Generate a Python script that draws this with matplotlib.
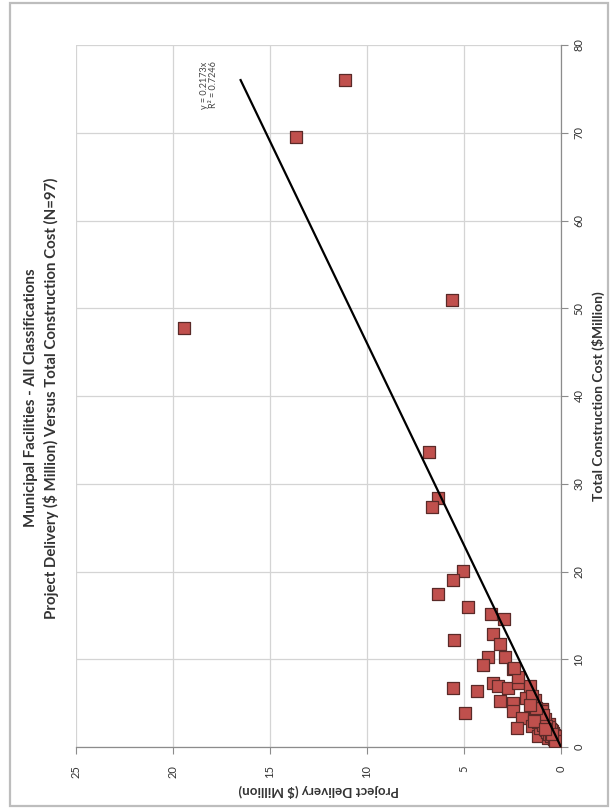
import matplotlib
matplotlib.use("Agg")
import matplotlib.pyplot as plt
from matplotlib.patches import Rectangle

plt.rcParams['font.family'] = ['Lato', 'DejaVu Sans']

# Total construction cost ($ Million) and project delivery cost ($ Million)
cost = [76.0, 69.5, 47.7, 50.9, 33.6, 28.4, 27.3, 20.1, 19.0, 17.4,
        15.9, 15.1, 14.6, 12.2, 12.9, 11.7, 10.2, 10.3, 9.4, 8.85,
        6.75, 6.4, 7.3, 6.9, 6.75, 7.3, 6.9, 5.2, 5.0, 5.6,
        5.4, 4.3, 3.9, 4.1, 3.5, 3.3, 2.2, 2.4, 2.2, 1.6,
        1.2, 0.84, 0.1,
        3.9, 4.1, 2.2, 1.9, 1.6, 1.0, 0.7, 0.3, 3.0, 2.8,
        2.6, 2.5, 2.0, 1.8, 1.7, 1.5, 1.4, 1.3, 1.1, 0.9,
        0.8, 0.6, 0.5, 0.45, 0.4, 0.35, 0.25, 0.2, 0.15, 0.12,
        0.1, 0.08, 0.05, 0.04, 0.03, 0.02, 0.55, 0.7, 1.0, 1.2,
        1.9, 2.3, 3.2, 3.6, 4.5, 5.8, 4.8, 8.0, 9.0, 3.0,
        2.4, 0.65, 1.5, 2.1]
delivery = [11.14, 13.64, 19.42, 5.64, 6.78, 6.34, 6.65, 5.03, 5.57, 6.34,
            4.8, 3.63, 2.96, 5.54, 3.52, 3.14, 2.89, 3.78, 4.0, 2.46,
            5.57, 4.31, 3.52, 3.23, 2.72, 2.2, 1.6, 3.14, 2.46, 1.78,
            1.35, 1.0, 4.94, 2.46, 1.44, 2.03, 2.29, 1.52, 0.84, 0.5,
            1.18, 0.32, 0.15,
            1.33, 1.0, 1.08, 0.77, 0.4, 0.67, 0.26, 0.12, 0.9, 1.2,
            0.6, 0.95, 0.55, 0.45, 0.7, 0.6, 0.35, 0.5, 0.3, 0.35,
            0.2, 0.15, 0.2, 0.12, 0.15, 0.1, 0.08, 0.06, 0.05, 0.04,
            0.03, 0.03, 0.02, 0.015, 0.01, 0.01, 0.13, 0.18, 0.25, 0.32,
            0.5, 0.6, 0.8, 0.95, 1.3, 1.5, 1.6, 2.2, 2.4, 1.4,
            0.75, 0.3, 0.45, 0.85]

slope = 0.2173
r2 = 0.7246
cost_ticks = [0, 10, 20, 30, 40, 50, 60, 70, 80]
delivery_ticks = [0, 5, 10, 15, 20, 25]

title1 = "Municipal Facilities - All Classifications"
title2 = "Project Delivery ($ Million) Versus Total Construction Cost (N=97)"
xlabel = "Total Construction Cost ($Million)"
ylabel = "Project Delivery ($ Million)"

W, H = 611, 809
fig = plt.figure(figsize=(W / 100, H / 100), dpi=100)
fig.patch.set_facecolor("white")

# outer chart frame
fig.add_artist(Rectangle((10 / W, 3 / H), 598 / W, 803 / H, transform=fig.transFigure,
                         fill=False, edgecolor="#bdbdbd", linewidth=1.6))

ax = fig.add_axes([76 / W, 1 - 747 / H, (561 - 76) / W, (747 - 45) / H])

# Chart is rotated 90 degrees: horizontal = delivery (inverted), vertical = cost
ax.scatter(delivery, cost, marker="s", s=80, facecolor="#C0504D",
           edgecolor="#5a2a28", linewidth=0.9, zorder=3)
cmax = max(cost)
ax.plot([0, slope * cmax], [0, cmax], color="black", linewidth=1.6, zorder=4)

ax.set_xlim(25, 0)
ax.set_ylim(0, 80)
ax.set_xticks(delivery_ticks)
ax.set_yticks(cost_ticks)
ax.grid(True, color="#d4d4d4", linewidth=0.9, zorder=0)
ax.set_axisbelow(True)

for s in ["top", "left"]:
    ax.spines[s].set_visible(False)
for s in ["right", "bottom"]:
    ax.spines[s].set_color("#8c8c8c")
    ax.spines[s].set_linewidth(0.9)

ax.yaxis.tick_right()
ax.yaxis.set_label_position("right")
ax.tick_params(axis="both", direction="out", length=5, color="#8c8c8c",
               labelsize=8, labelcolor="#333333")
ax.tick_params(axis="x", labelrotation=90, pad=8)
ax.tick_params(axis="y", labelrotation=90, pad=4)
for lab in ax.get_yticklabels():
    lab.set_verticalalignment("center")

ax.set_ylabel(xlabel, rotation=90, fontsize=10, fontweight="bold",
              color="#333333", labelpad=5)
ax.set_xlabel(ylabel, rotation=180, fontsize=9.6, fontweight="bold",
              color="#333333", labelpad=4)

# title (rotated with the chart)
ymid = 1 - 398 / H
fig.text(31 / W, ymid, title1, rotation=90, fontsize=10.8, fontweight="bold",
         color="#333333", ha="center", va="center")
fig.text(51 / W, ymid, title2, rotation=90, fontsize=10.8, fontweight="bold",
         color="#333333", ha="center", va="center")

# trendline equation
fig.text(205 / W, 1 - 85 / H, "y = %.4fx" % slope, rotation=90, fontsize=6.5,
         color="#444444", ha="center", va="center")
fig.text(214 / W, 1 - 85 / H, "R\u00b2 = %.4f" % r2, rotation=90, fontsize=6.5,
         color="#444444", ha="center", va="center")

fig.savefig("out.png", dpi=100)
